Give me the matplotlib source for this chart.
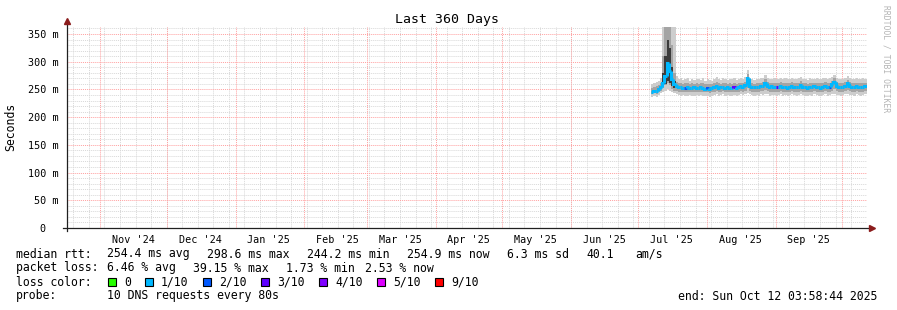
import matplotlib
matplotlib.use('Agg')
import matplotlib.pyplot as plt
import matplotlib.dates as mdates
from matplotlib.patches import Rectangle
from datetime import datetime, timedelta

# time window of the graph
t_start = datetime(2024, 10, 17, 3, 58, 44)
t_end = datetime(2025, 10, 12, 3, 58, 44)
first_day = datetime(2025, 7, 7)   # first day with data
spike_day = datetime(2025, 7, 12)  # first day of the july spike

# daily median rtt (ms), Jul 7 .. Oct 12
median = [246, 248, 247, 251, 255, 262, 275, 298, 284, 268,
          259, 256, 254, 255, 253, 252, 254, 253, 252, 254,
          253, 252, 254, 253, 251, 252, 250, 253, 254, 256,
          253, 254, 255, 253, 254, 253, 252, 254, 253, 255,
          256, 255, 258, 270, 257, 255, 254, 255, 254, 256,
          256, 261, 256, 254, 256, 255, 254, 255, 256, 254,
          255, 253, 254, 256, 255, 254, 255, 258, 255, 254,
          253, 255, 254, 256, 255, 254, 253, 255, 256, 254,
          255, 259, 264, 256, 255, 254, 255, 256, 261, 256,
          255, 254, 256, 255, 254, 255, 256, 255]
# packet loss per day (tenths)
loss = [1, 1, 1, 1, 1, 1, 1, 1, 1, 1,
        1, 1, 1, 1, 1, 2, 1, 1, 1, 1,
        1, 1, 1, 1, 1, 2, 1, 1, 1, 1,
        1, 1, 1, 1, 1, 1, 1, 3, 1, 1,
        1, 1, 1, 1, 1, 1, 1, 1, 1, 1,
        1, 1, 1, 1, 1, 1, 3, 1, 1, 1,
        1, 1, 1, 1, 1, 1, 1, 1, 1, 1,
        1, 1, 1, 1, 1, 1, 1, 1, 1, 1,
        2, 1, 1, 1, 1, 1, 1, 1, 1, 1,
        1, 1, 1, 1, 1, 1, 1, 1]
# smoke: full spread of the pings
smoke_lo = [236, 238, 237, 240, 243, 246, 248, 250, 248, 245,
            243, 241, 240, 239, 240, 238, 239, 240, 239, 238,
            240, 239, 240, 238, 239, 238, 237, 239, 240, 241,
            239, 240, 241, 239, 240, 239, 238, 240, 239, 240,
            241, 240, 242, 244, 241, 240, 239, 240, 239, 241,
            240, 242, 241, 239, 240, 240, 239, 240, 241, 239,
            240, 239, 240, 241, 240, 239, 240, 241, 240, 239,
            238, 240, 239, 241, 240, 239, 238, 240, 241, 239,
            240, 241, 242, 240, 240, 239, 240, 241, 242, 240,
            240, 239, 241, 240, 239, 240, 241, 240]
smoke_hi = [260, 262, 263, 265, 270, 363, 363, 363, 363, 363,
            363, 275, 268, 270, 267, 268, 270, 266, 268, 267,
            269, 268, 267, 270, 266, 268, 267, 266, 269, 272,
            268, 267, 270, 268, 267, 269, 268, 270, 267, 268,
            270, 269, 272, 285, 270, 268, 267, 269, 268, 270,
            270, 276, 270, 268, 269, 270, 268, 269, 270, 268,
            270, 268, 269, 271, 268, 269, 270, 273, 269, 268,
            267, 270, 268, 269, 270, 268, 269, 270, 271, 268,
            270, 272, 276, 270, 269, 268, 269, 270, 274, 270,
            269, 268, 270, 269, 268, 270, 269, 268]
# smoke: inner (denser) part
core_lo = [241, 243, 242, 245, 248, 252, 258, 262, 258, 250,
           248, 247, 246, 245, 246, 245, 246, 246, 245, 245,
           246, 245, 246, 245, 245, 245, 244, 245, 246, 247,
           245, 246, 247, 245, 246, 245, 245, 246, 245, 246,
           247, 246, 248, 252, 247, 246, 245, 246, 245, 247,
           247, 249, 247, 246, 246, 246, 245, 246, 247, 246,
           246, 245, 246, 247, 246, 245, 246, 248, 246, 245,
           245, 246, 245, 247, 246, 245, 245, 246, 247, 246,
           246, 248, 250, 247, 246, 245, 246, 247, 249, 247,
           246, 245, 247, 246, 245, 246, 247, 246]
core_hi = [253, 255, 256, 258, 262, 310, 363, 363, 363, 330,
           280, 263, 261, 262, 260, 261, 262, 260, 261, 260,
           261, 260, 261, 262, 259, 260, 259, 260, 262, 264,
           261, 260, 262, 261, 260, 261, 260, 262, 260, 261,
           262, 261, 264, 278, 263, 261, 260, 262, 261, 262,
           263, 268, 263, 261, 262, 262, 261, 262, 263, 261,
           262, 261, 262, 263, 261, 262, 262, 265, 262, 261,
           260, 262, 261, 262, 262, 261, 261, 262, 263, 261,
           262, 265, 270, 263, 262, 261, 262, 263, 267, 263,
           262, 261, 262, 262, 261, 262, 262, 261]
# darkest smoke inside the spike, Jul 12 .. Jul 17
spike_lo = [254, 260, 266, 262, 256, 252]
spike_hi = [280, 310, 340, 325, 290, 266]

loss_colors = {0: '#26ff00', 1: '#00b8ff', 2: '#0059ff', 3: '#5e00ff',
               4: '#7e00ff', 5: '#dd00ff', 9: '#ff0000'}
legend_steps = [0, 1, 2, 3, 4, 5, 9]
legend_labels = ['0', '1/10', '2/10', '3/10', '4/10', '5/10', '9/10']

y_ticks = [0, 50, 100, 150, 200, 250, 300, 350]
y_labels = ['0  ', '50 m', '100 m', '150 m', '200 m', '250 m', '300 m', '350 m']

plt.rcParams['font.family'] = 'DejaVu Sans Mono'

W, H = 897, 310
fig = plt.figure(figsize=(W / 100, H / 100), dpi=100)
ax = fig.add_axes([67 / W, 1 - 228 / H, 800 / W, (228 - 26.8) / H])

x0, x1 = mdates.date2num(t_start), mdates.date2num(t_end)
ax.set_xlim(x0, x1)
ax.set_ylim(0, 363)

# grid: horizontal
for v in range(10, 363, 10):
    if v % 50:
        ax.axhline(v, color='#d8d8d8', lw=0.7, dashes=(1, 1), zorder=0)
for v in range(50, 363, 50):
    ax.axhline(v, color='#ffa0a0', lw=0.7, dashes=(1, 1), zorder=0.5)

# grid: vertical (weeks and months)
d = datetime(2024, 10, 20)
while d < t_end:
    ax.axvline(mdates.date2num(d), color='#d8d8d8', lw=0.7, dashes=(1, 1), zorder=0)
    d += timedelta(days=7)
months = []
y, m = 2024, 11
while datetime(y, m, 1) < t_end:
    months.append(datetime(y, m, 1))
    m += 1
    if m > 12:
        y, m = y + 1, 1
for d in months:
    ax.axvline(mdates.date2num(d), color='#ffa0a0', lw=0.7, dashes=(1, 1), zorder=0.5)

# data
days = [first_day + timedelta(days=i) for i in range(len(median))]
xs = mdates.date2num(days + [t_end])
ax.fill_between(xs, smoke_lo + smoke_lo[-1:], smoke_hi + smoke_hi[-1:],
                step='post', color='#cdcdcd', lw=0, zorder=2)
ax.fill_between(xs, core_lo + core_lo[-1:], core_hi + core_hi[-1:],
                step='post', color='#a4a4a4', lw=0, zorder=2)
sx = mdates.date2num([spike_day + timedelta(days=i) for i in range(len(spike_lo) + 1)])
ax.fill_between(sx, spike_lo + spike_lo[-1:], spike_hi + spike_hi[-1:],
                step='post', color='#3c3c3c', lw=0, zorder=2)
for i in range(len(median)):
    prev = median[i - 1] if i else median[i]
    ax.plot([xs[i], xs[i], xs[i + 1]], [prev, median[i], median[i]],
            color=loss_colors[loss[i]], lw=2.2, solid_joinstyle='miter',
            solid_capstyle='butt', zorder=3)

# axes with arrows
for s in ax.spines.values():
    s.set_visible(False)
ax.plot([-0.005, 1.006], [0, 0], color='#202020', lw=0.9, transform=ax.transAxes,
        clip_on=False, zorder=4)
ax.plot([0, 0], [-0.015, 1.03], color='#202020', lw=0.9, transform=ax.transAxes,
        clip_on=False, zorder=4)
ax.plot([1.006], [0], marker='>', color='#8b1c1c', ms=4, transform=ax.transAxes,
        clip_on=False, zorder=5)
ax.plot([0], [1.03], marker='^', color='#8b1c1c', ms=4, transform=ax.transAxes,
        clip_on=False, zorder=5)

# ticks
label_pos = [datetime(months[i].year, months[i].month, 16) for i in range(len(months) - 1)]
ax.set_xticks(mdates.date2num(label_pos))
ax.set_xticklabels([p.strftime("%b '%y") for p in label_pos], fontsize=7.3)
ax.set_yticks(y_ticks)
ax.set_yticklabels(y_labels, fontsize=7.3)
ax.tick_params(axis='x', length=0, pad=5)
ax.tick_params(axis='y', length=0, pad=6)

fig.text(447 / W, 1 - 19 / H, 'Last 360 Days', ha='center', va='center', fontsize=9.5)
fig.text(11 / W, 1 - 127 / H, 'Seconds', rotation=90, ha='center', va='center', fontsize=8.3)
fig.text(886 / W, 1 - 59 / H, 'RRDTOOL / TOBI OETIKER', rotation=-90, ha='center',
         va='center', fontsize=5.8, color='#b4b4b4')

# legend lines
def put(x, y, s):
    fig.text(x / W, 1 - y / H, s, ha='left', va='center', fontsize=8.3)

put(16, 254, 'median rtt:')
put(107, 254, '254.4 ms avg')
put(207, 254, '298.6 ms max')
put(307, 254, '244.2 ms min')
put(407, 254, '254.9 ms now')
put(507, 254, '6.3 ms sd')
put(586, 254, '40.1')
put(635, 254, 'am/s')

put(16, 268, 'packet loss:')
put(107, 268, '6.46 % avg')
put(193, 268, '39.15 % max')
put(286, 268, '1.73 % min')
put(365, 268, '2.53 % now')

put(16, 282, 'loss color:')
box_x = [108, 145, 203, 261, 319, 377, 435]
for bx, st, lab in zip(box_x, legend_steps, legend_labels):
    fig.patches.append(Rectangle((bx / W, 1 - 286 / H), 8 / W, 8 / H,
                                 transform=fig.transFigure, facecolor=loss_colors[st],
                                 edgecolor='black', lw=0.8))
    put(bx + 16, 282, lab)

put(16, 296, 'probe:')
put(107, 296, '10 DNS requests every 80s')
put(678, 296, 'end: Sun Oct 12 03:58:44 2025')

fig.savefig('out.png', dpi=100)
